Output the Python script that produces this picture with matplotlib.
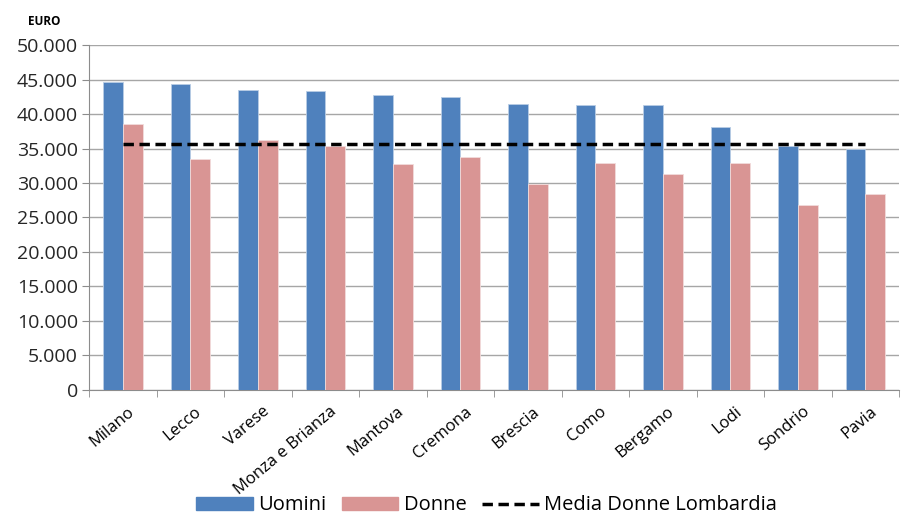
import numpy as np
import matplotlib
matplotlib.use("Agg")
import matplotlib.pyplot as plt
from matplotlib.ticker import FuncFormatter, FixedLocator
from matplotlib.patches import Patch
from matplotlib.lines import Line2D

province = ["Milano", "Lecco", "Varese", "Monza e Brianza", "Mantova", "Cremona",
            "Brescia", "Como", "Bergamo", "Lodi", "Sondrio", "Pavia"]
uomini = [44600, 44350, 43500, 43300, 42750, 42450, 41450, 41250, 41250, 38100, 35400, 34900]
donne = [38550, 33500, 36200, 35400, 32750, 33750, 29850, 32900, 31300, 32900, 26800, 28400]
media_donne = 35650

plt.rcParams['font.family'] = ['Open Sans', 'DejaVu Sans']

fig = plt.figure(figsize=(9.01, 5.19), dpi=100)
ax = fig.add_axes([0.099, 0.249, 0.899, 0.664])

x = np.arange(len(province))
w = 0.29
ax.bar(x - w / 2, uomini, w, color='#4f81bd', edgecolor='#b9cde5', linewidth=0.6, zorder=3)
ax.bar(x + w / 2, donne, w, color='#d99594', edgecolor='#f2dcdb', linewidth=0.6, zorder=3)
ax.plot(x, [media_donne] * len(x), color='black', lw=2.5, ls=(0, (3, 1.6)), zorder=4)

ax.set_xlim(-0.5, len(province) - 0.5)
ax.set_ylim(0, 50000)
ax.set_yticks(np.arange(0, 50001, 5000))
ax.yaxis.set_major_formatter(FuncFormatter(lambda v, p: f"{int(v):,}".replace(",", ".")))
ax.grid(axis='y', color='#a6a6a6', lw=1, zorder=0)

# etichette inclinate, minor tick ai bordi delle categorie
ax.set_xticks(x + 0.06)
ax.set_xticklabels(province, rotation=40, ha='right', rotation_mode='anchor', fontsize=12)
ax.xaxis.set_minor_locator(FixedLocator(np.arange(-0.5, len(province), 1)))
ax.tick_params(axis='x', which='major', length=0, pad=10)
ax.tick_params(axis='x', which='minor', length=5, color='#8c8c8c', direction='out')
ax.tick_params(axis='y', length=5, color='#8c8c8c', labelsize=14, labelcolor='#262626', pad=3)

for s in ['top', 'right']:
    ax.spines[s].set_visible(False)
for s in ['left', 'bottom']:
    ax.spines[s].set_color('#8c8c8c')

fig.text(0.031, 0.952, "EURO", fontsize=8.5, fontweight='bold')

handles = [Patch(color='#4f81bd'), Patch(color='#d99594'),
           Line2D([0], [0], color='black', lw=2.5, ls=(0, (3, 1.6)))]
fig.legend(handles, ["Uomini", "Donne", "Media Donne Lombardia"], loc='lower center',
           bbox_to_anchor=(0.54, -0.028), ncol=3, frameon=False, fontsize=14.5,
           handlelength=2.8, handleheight=0.6, handletextpad=0.25, columnspacing=0.8)

fig.savefig("out.png", dpi=100)
